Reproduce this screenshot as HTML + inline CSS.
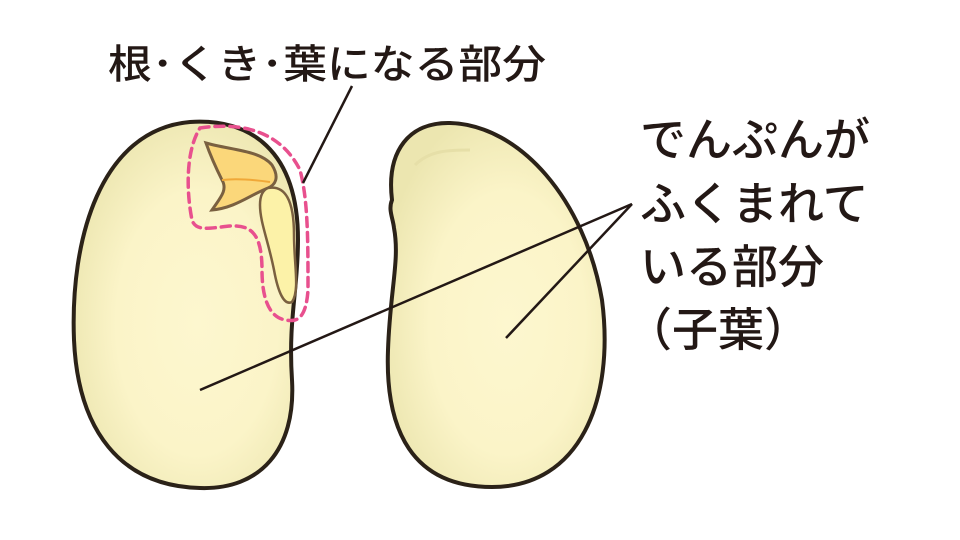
<!DOCTYPE html>
<html><head><meta charset="utf-8"><style>
html,body{margin:0;padding:0;background:#fff;width:960px;height:540px;overflow:hidden}
svg{display:block}
text{font-family:"Liberation Sans","Noto Sans CJK JP",sans-serif;fill:#231815;font-weight:500}
</style></head><body>
<svg width="960" height="540" viewBox="0 0 960 540">
<defs>
<radialGradient id="g" cx="0.55" cy="0.55" r="0.6">
<stop offset="0" stop-color="#fdf7cf"/><stop offset="0.6" stop-color="#fbf4c8"/><stop offset="1" stop-color="#ece6b0"/>
</radialGradient>
</defs>
<!-- left seed -->
<path d="M190,122 C250,118 298,150 298,240 C298,290 288,320 292,380 C296,450 260,490 200,488 C120,486 78,430 74,340 C70,240 100,130 190,122 Z" fill="url(#g)" stroke="#2b2218" stroke-width="4"/>
<!-- pink dashed outline -->
<path d="M200,128 C240,122 280,130 300,170 C308,200 308,240 308,290 C306,320 296,322 286,320 C270,318 262,300 262,270 C262,232 250,225 230,226 C210,228 196,232 192,220 C186,190 186,150 200,128 Z" fill="none" stroke="#e8508e" stroke-width="3.5" stroke-dasharray="9,6" stroke-linecap="round"/>
<!-- leaves -->
<path d="M206,143 C230,150 260,150 272,165 C280,178 275,185 268,188 C250,195 235,208 212,210 C220,198 228,190 222,180 C218,172 212,160 206,143 Z" fill="#fbd77a" stroke="#7a6040" stroke-width="3"/>
<path d="M222,180 C238,178 256,180 270,182" stroke="#f0a838" stroke-width="2" fill="none"/>
<!-- stem -->
<path d="M268,188 C285,185 294,200 294,235 C294,265 300,290 292,302 C284,306 278,292 274,270 C268,240 260,222 260,205 C260,195 263,190 268,188 Z" fill="#fcf2a8" stroke="#7a6040" stroke-width="2.5"/>
<!-- right seed -->
<path d="M392,200 C386,150 410,122 450,123 C520,125 585,200 602,300 C615,400 580,487 492,487 C412,487 385,430 388,350 C390,290 400,260 394,228 C393,218 388,210 392,200 Z" fill="url(#g)" stroke="#2b2218" stroke-width="4"/>
<path d="M415,165 C430,150 450,150 470,150" stroke="#e6dfa8" stroke-width="3" fill="none"/>
<!-- leader lines -->
<line x1="352" y1="86" x2="303" y2="183" stroke="#231815" stroke-width="2.5"/>
<line x1="632" y1="204" x2="200" y2="390" stroke="#231815" stroke-width="2.5"/>
<line x1="632" y1="204" x2="506" y2="338" stroke="#231815" stroke-width="2.5"/>
<!-- labels -->
<text x="108" y="78" font-size="40" textLength="438" lengthAdjust="spacingAndGlyphs">根･くき･葉になる部分</text>
<text x="640" y="156" font-size="46">でんぷんが</text>
<text x="640" y="220" font-size="46">ふくまれて</text>
<text x="640" y="283" font-size="46">いる部分</text>
<text x="626" y="346" font-size="46">（子葉）</text>
</svg>
</body></html>
